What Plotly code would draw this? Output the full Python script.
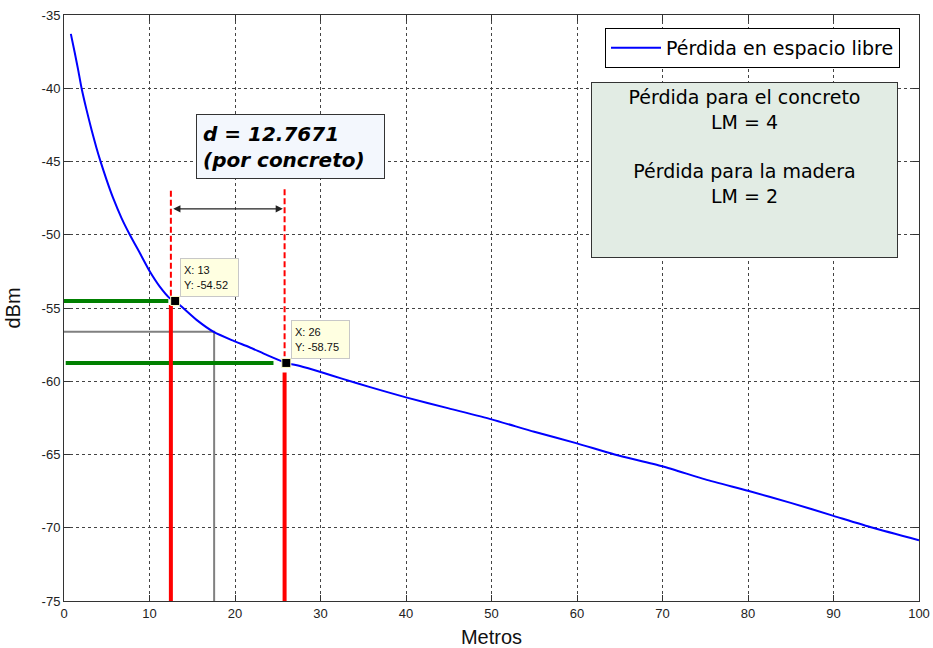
import plotly.graph_objects as go

# ---- data ----
distance_m = [0.8, 1.26, 1.65, 2.05, 2.63, 3.22, 3.8, 4.27, 4.97, 5.74, 6.73, 7.7, 8.87,
              10.04, 11.2, 12.37, 13.0, 13.74, 15.5, 17.56, 19.78, 21.7, 23.7, 26.0, 27.6,
              30.3, 32.5, 35.8, 40.0, 45.0, 50.0, 55.0, 60.0, 64.4, 70.0, 75.0, 80.0, 85.0,
              90.0, 94.6, 100.0]
loss_dbm = [-36.29, -37.58, -38.73, -39.98, -41.46, -42.83, -44.08, -44.99, -46.24, -47.49,
            -48.86, -50.0, -51.25, -52.51, -53.54, -54.33, -54.52, -54.9, -55.81, -56.65,
            -57.23, -57.68, -58.2, -58.75, -58.96, -59.42, -59.82, -60.4, -61.1, -61.85,
            -62.6, -63.45, -64.24, -65.0, -65.8, -66.7, -67.48, -68.3, -69.19, -70.0, -70.85]

x_ticks = [0, 10, 20, 30, 40, 50, 60, 70, 80, 90, 100]
x_tick_labels = ["0", "10", "20", "30", "40", "50", "60", "70", "80", "90", "100"]
y_ticks = [-75, -70, -65, -60, -55, -50, -45, -40, -35]
y_tick_labels = ["-75", "-70", "-65", "-60", "-55", "-50", "-45", "-40", "-35"]

tip_x = [13, 26]
tip_y = [-54.52, -58.75]
wall_x = [12.5, 25.8]
wall_solid_top = [-54.8, -59.4]
wall_dash_top = [-47.0, -46.9]
wall_dash_bottom = [-54.3, -58.3]
green_start_x = [0.0, 0.2]
green_end_x = [12.2, 24.5]
gray_x = 17.56
gray_y = -56.62
arrow_x = [12.6, 25.6]
arrow_y = -48.23
x_range = [0, 100]
y_range = [-75, -35]
d_text = "d = 12.7671"
d_sub = "(por concreto)"
box_lines = ["Pérdida para el concreto", "LM = 4", "", "Pérdida para la madera", "LM = 2"]
legend_name = "Pérdida en espacio libre"

fig = go.Figure()

# gray reference lines
fig.add_trace(go.Scatter(x=[x_range[0], gray_x, gray_x], y=[gray_y, gray_y, y_range[0]],
                         mode="lines", line=dict(color="#808080", width=2),
                         showlegend=False, hoverinfo="skip"))
# green horizontal lines
gx, gy = [], []
for s, e, yv in zip(green_start_x, green_end_x, tip_y):
    gx += [s, e, None]
    gy += [yv, yv, None]
fig.add_trace(go.Scatter(x=gx, y=gy, mode="lines", line=dict(color="#008000", width=4),
                         showlegend=False, hoverinfo="skip"))
# red solid lines
rx, ry = [], []
for xv, top in zip(wall_x, wall_solid_top):
    rx += [xv, xv, None]
    ry += [y_range[0], top, None]
fig.add_trace(go.Scatter(x=rx, y=ry, mode="lines", line=dict(color="#ff0000", width=4),
                         showlegend=False, hoverinfo="skip"))
# red dashed lines
dx, dy = [], []
for xv, t, b in zip(wall_x, wall_dash_top, wall_dash_bottom):
    dx += [xv, xv, None]
    dy += [t, b, None]
fig.add_trace(go.Scatter(x=dx, y=dy, mode="lines",
                         line=dict(color="#ff0000", width=2, dash="6px,3px"),
                         showlegend=False, hoverinfo="skip"))
# main curve
fig.add_trace(go.Scatter(x=distance_m, y=loss_dbm, mode="lines", name=legend_name,
                         line=dict(color="#0000ff", width=2, shape="spline", smoothing=0.6)))
# data tip markers
fig.add_trace(go.Scatter(x=tip_x, y=tip_y, mode="markers",
                         marker=dict(symbol="square", size=9, color="black",
                                     line=dict(color="#ffffc8", width=1)),
                         showlegend=False, hoverinfo="skip"))

annotations = []
# double arrow
annotations.append(dict(x=arrow_x[1], y=arrow_y, ax=arrow_x[0], ay=arrow_y,
                        xref="x", yref="y", axref="x", ayref="y", text="",
                        showarrow=True, arrowhead=2, arrowside="end+start",
                        arrowsize=1.2, arrowwidth=1.2, arrowcolor="#222"))
# d box
annotations.append(dict(x=(196 - 64) / 855, y=(600.5 - 114) / 585, xref="paper", yref="paper",
                        xanchor="left", yanchor="top", showarrow=False, align="left",
                        text=f"<b><i>{d_text}</i></b><br><b><i>{d_sub}</i></b>",
                        font=dict(family="DejaVu Sans", size=20, color="black"),
                        bgcolor="#f3f7fd", bordercolor="#333", borderwidth=1, borderpad=6,
                        width=175, height=51))
# green box
annotations.append(dict(x=(744.5 - 64) / 855, y=(600.5 - 82.7) / 585, xref="paper", yref="paper",
                        xanchor="center", yanchor="top", showarrow=False, align="center",
                        valign="top", text="<br>".join(box_lines),
                        font=dict(family="DejaVu Sans", size=19, color="black"),
                        bgcolor="#e2ece4", bordercolor="#333", borderwidth=1, borderpad=3,
                        width=299, height=168))
# data tips
for xv, yv in zip(tip_x, tip_y):
    annotations.append(dict(x=xv, y=yv, xref="x", yref="y", xanchor="left", yanchor="bottom",
                            xshift=5, yshift=4, showarrow=False, align="left", valign="middle",
                            text=f"X: {xv}<br>Y: {yv}",
                            font=dict(family="Liberation Sans", size=11, color="#111"),
                            bgcolor="#ffffe1", bordercolor="#c8c8c8", borderwidth=1,
                            borderpad=3, width=51, height=31))

axis_common = dict(showgrid=True, gridcolor="#444", griddash="3px,3px", gridwidth=1,
                   ticks="inside", ticklen=6, tickcolor="#333", mirror="allticks",
                   showline=True, linecolor="#333", linewidth=1, zeroline=False,
                   automargin=False,
                   tickfont=dict(family="Liberation Sans", size=13, color="#222"))

fig.update_layout(
    width=933, height=648,
    margin=dict(l=64, r=14, t=15, b=47, autoexpand=False),
    paper_bgcolor="white", plot_bgcolor="white",
    xaxis=dict(range=x_range, tickvals=x_ticks, ticktext=x_tick_labels,
               title=dict(text="Metros",
                          font=dict(family="Liberation Sans", size=20, color="#111")),
               **axis_common),
    yaxis=dict(range=y_range, tickvals=y_ticks, ticktext=y_tick_labels,
               title=dict(text="dBm",
                          font=dict(family="Liberation Sans", size=20, color="#111")),
               **axis_common),
    legend=dict(x=(900 - 64) / 855, y=(600.5 - 28.3) / 585, xanchor="right", yanchor="top",
                bgcolor="white", bordercolor="#000", borderwidth=1, itemwidth=50,
                font=dict(family="DejaVu Sans", size=19, color="black")),
    annotations=annotations,
)

fig.write_html("out.html")
